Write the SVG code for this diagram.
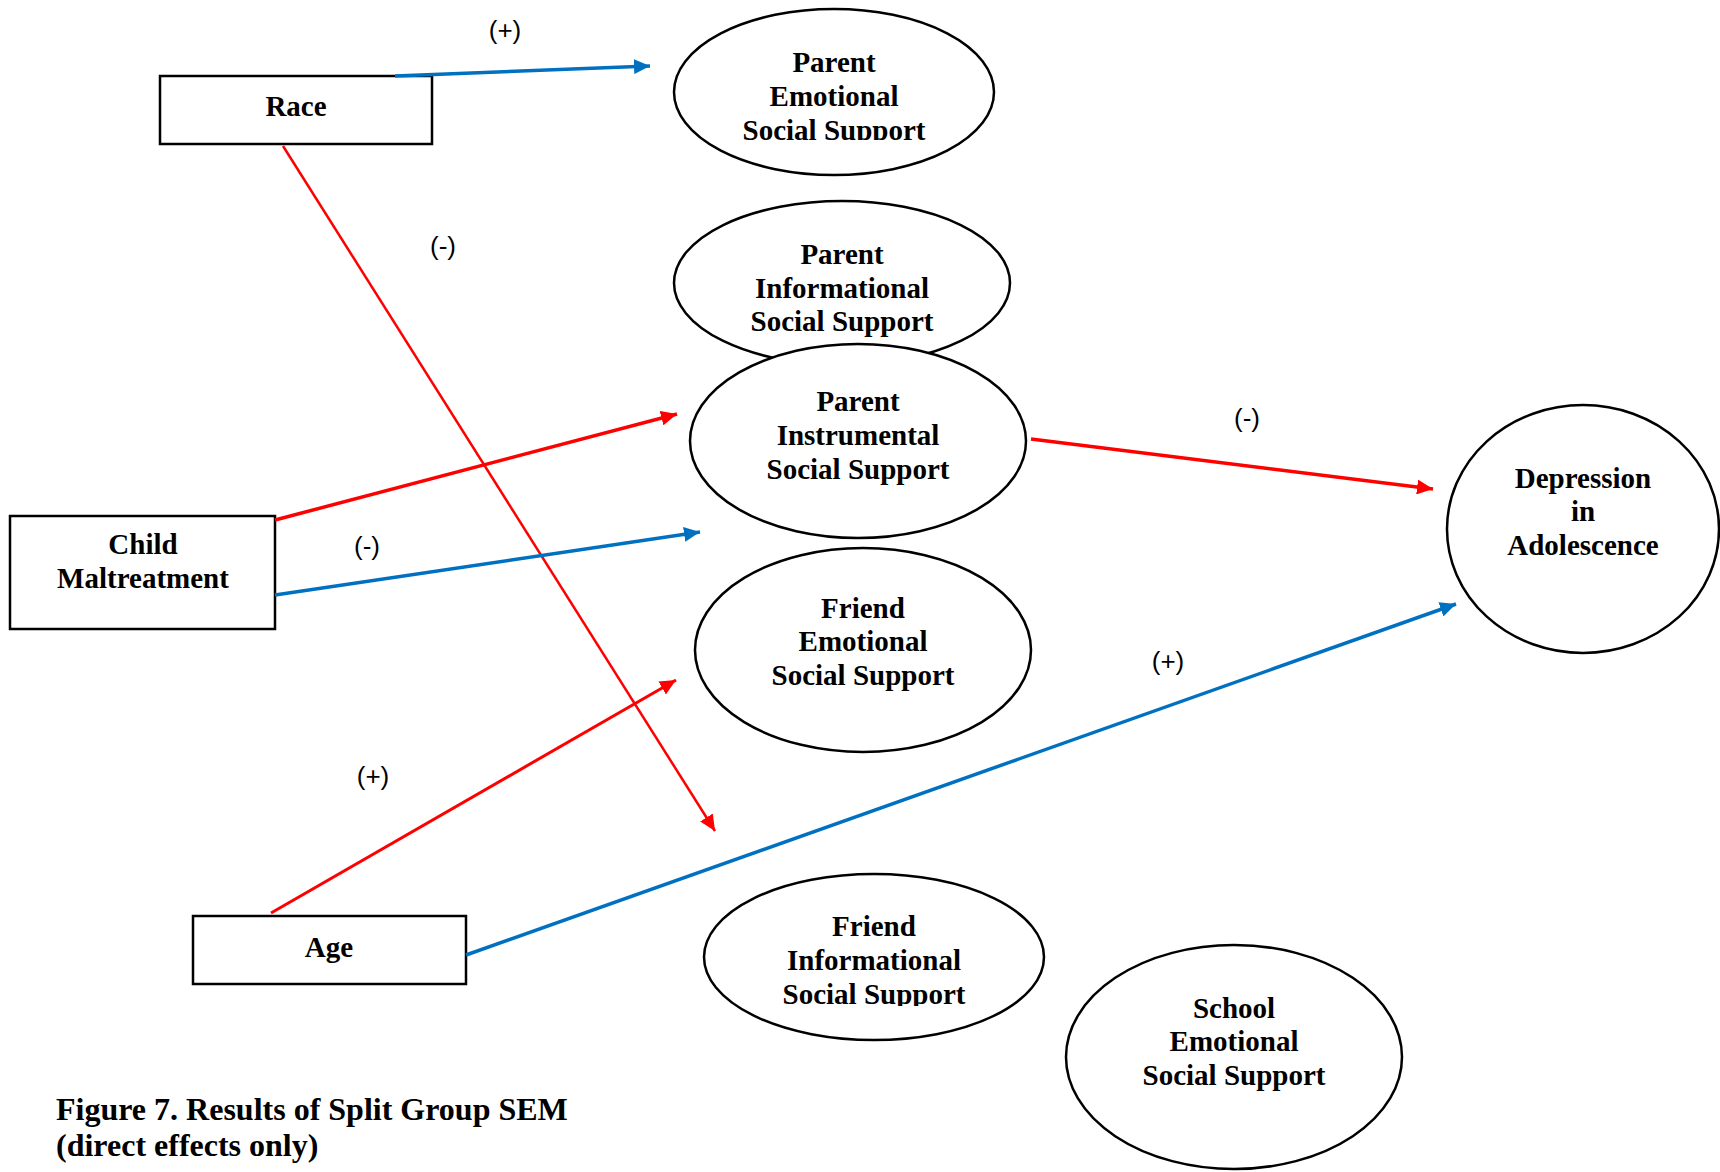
<svg xmlns="http://www.w3.org/2000/svg" width="1720" height="1172" viewBox="0 0 1720 1172">
<style>
.n{fill:#fff;stroke:#000;stroke-width:2.5}
.t{font-family:"Liberation Serif","Times New Roman",serif;font-weight:bold;font-size:29px;text-anchor:middle;fill:#000}
.cap{font-family:"Liberation Serif","Times New Roman",serif;font-weight:bold;font-size:32px;fill:#000}
.l{font-family:"Liberation Sans",Arial,sans-serif;font-size:26px;text-anchor:middle;fill:#000}
.r{stroke:#FF0000;stroke-width:3.5;fill:none}
.b{stroke:#0070C0;stroke-width:3.5;fill:none}
</style>
<defs>
<marker id="ar" markerUnits="userSpaceOnUse" markerWidth="17" markerHeight="15" refX="16" refY="7.5" orient="auto"><path d="M0,0 L16,7.5 L0,15 Z" fill="#FF0000"/></marker>
<marker id="ab" markerUnits="userSpaceOnUse" markerWidth="17" markerHeight="15" refX="16" refY="7.5" orient="auto"><path d="M0,0 L16,7.5 L0,15 Z" fill="#0070C0"/></marker>
<clipPath id="c1"><rect x="650" y="0" width="370" height="140"/></clipPath>
<clipPath id="c2"><rect x="680" y="870" width="390" height="136"/></clipPath>
</defs>
<rect width="1720" height="1172" fill="#fff"/>

<g id="race"><rect class="n" x="160" y="76" width="272" height="68"/><text class="t" x="296" y="116">Race</text></g>
<g id="child"><rect class="n" x="10" y="516" width="265" height="113"/><text class="t" x="143" y="554">Child</text><text class="t" x="143" y="588">Maltreatment</text></g>
<g id="age"><rect class="n" x="193" y="916" width="273" height="68"/><text class="t" x="329" y="957">Age</text></g>

<g id="pe"><ellipse class="n" cx="834" cy="92" rx="160" ry="83"/><g clip-path="url(#c1)"><text class="t" x="834" y="72">Parent</text><text class="t" x="834" y="106">Emotional</text><text class="t" x="834" y="140">Social Support</text></g></g>
<g id="pinf"><ellipse class="n" cx="842" cy="283" rx="168" ry="82"/><text class="t" x="842" y="264">Parent</text><text class="t" x="842" y="298">Informational</text><text class="t" x="842" y="331">Social Support</text></g>
<g id="pins"><ellipse class="n" cx="858" cy="441" rx="168" ry="97"/><text class="t" x="858" y="411">Parent</text><text class="t" x="858" y="445">Instrumental</text><text class="t" x="858" y="479">Social Support</text></g>
<g id="fe"><ellipse class="n" cx="863" cy="650" rx="168" ry="102"/><text class="t" x="863" y="618">Friend</text><text class="t" x="863" y="651">Emotional</text><text class="t" x="863" y="685">Social Support</text></g>
<g id="fi"><ellipse class="n" cx="874" cy="957" rx="170" ry="83"/><g clip-path="url(#c2)"><text class="t" x="874" y="936">Friend</text><text class="t" x="874" y="970">Informational</text><text class="t" x="874" y="1004">Social Support</text></g></g>
<g id="se"><ellipse class="n" cx="1234" cy="1057" rx="168" ry="112"/><text class="t" x="1234" y="1018">School</text><text class="t" x="1234" y="1051">Emotional</text><text class="t" x="1234" y="1085">Social Support</text></g>
<g id="dep"><ellipse class="n" cx="1583" cy="529" rx="136" ry="124"/><text class="t" x="1583" y="488">Depression</text><text class="t" x="1583" y="521">in</text><text class="t" x="1583" y="555">Adolescence</text></g>

<g id="connectors">
<line class="b" x1="395" y1="76" x2="650" y2="66" marker-end="url(#ab)"/>
<line class="r" style="stroke-width:2.5" x1="283" y1="146" x2="715" y2="831" marker-end="url(#ar)"/>
<line class="r" x1="275" y1="520" x2="677" y2="414" marker-end="url(#ar)"/>
<line class="b" x1="275" y1="595" x2="700" y2="532" marker-end="url(#ab)"/>
<line class="r" x1="1031" y1="439" x2="1433" y2="489" marker-end="url(#ar)"/>
<line class="r" style="stroke-width:3" x1="271" y1="913" x2="676" y2="680" marker-end="url(#ar)"/>
<line class="b" x1="466" y1="955" x2="1456" y2="604" marker-end="url(#ab)"/>
</g>

<g id="labels">
<text class="l" x="505" y="39">(+)</text>
<text class="l" x="443" y="255">(-)</text>
<text class="l" x="367" y="555">(-)</text>
<text class="l" x="373" y="785">(+)</text>
<text class="l" x="1247" y="427">(-)</text>
<text class="l" x="1168" y="670">(+)</text>
</g>

<text class="cap" x="56" y="1120">Figure 7. Results of Split Group SEM</text>
<text class="cap" x="56" y="1156">(direct effects only)</text>
</svg>
